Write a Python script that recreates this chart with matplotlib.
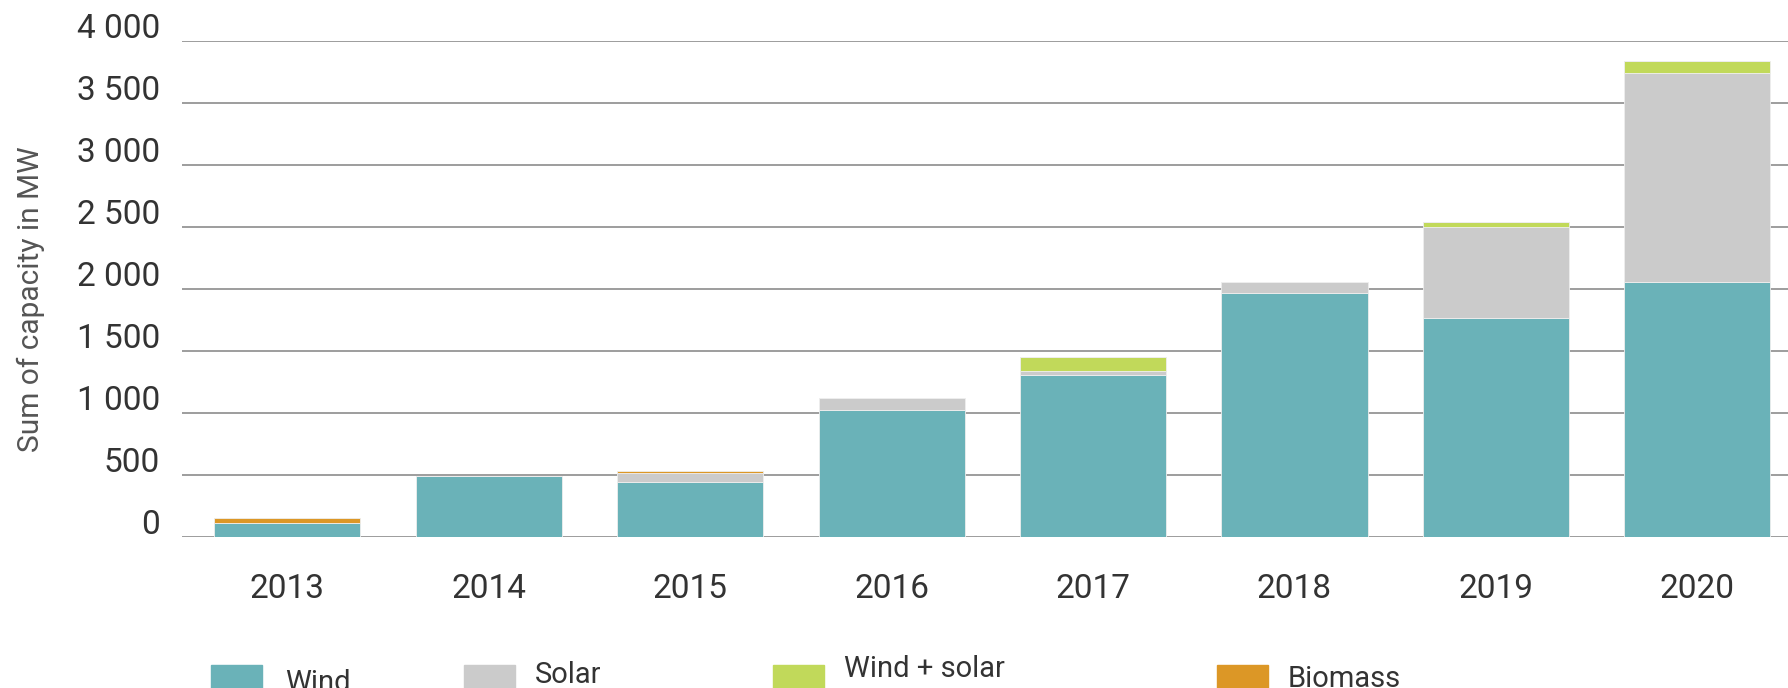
import matplotlib
matplotlib.use("Agg")
import matplotlib.pyplot as plt
import matplotlib.transforms as mtrans
from matplotlib.patches import Rectangle
import numpy as np

years = ["2013", "2014", "2015", "2016", "2017", "2018", "2019", "2020"]
wind = [105, 490, 440, 1020, 1305, 1960, 1765, 2050]
solar = [0, 0, 75, 95, 30, 90, 730, 1685]
wind_solar = [0, 0, 0, 0, 110, 0, 40, 100]
biomass = [45, 0, 15, 0, 0, 0, 0, 0]

series = [wind, solar, wind_solar, biomass]
labels = ["Wind", "Solar", "Wind + solar", "Biomass"]
colors = ["#6ab2b8", "#cbcbcb", "#c1d95a", "#dc9726"]
yticks = [0, 500, 1000, 1500, 2000, 2500, 3000, 3500, 4000]
ytick_labels = ["0", "500", "1 000", "1 500", "2 000", "2 500", "3 000", "3 500", "4 000"]

plt.rcParams['font.family'] = ['Roboto', 'DejaVu Sans']

W, H = 1788, 688
fig = plt.figure(figsize=(W / 100, H / 100), dpi=100)
ax = fig.add_axes([182 / W, 1 - 536.5 / H, 1 - 182 / W, (536.5 - 40.5) / H])

x = np.arange(len(years))
bottom = np.zeros(len(years))
for vals, col in zip(series, colors):
    vals = np.array(vals, dtype=float)
    ax.bar(x, vals, 0.725, bottom=bottom, color=col, edgecolor="#eeeeee",
           linewidth=0.6, zorder=3)
    bottom += vals

ax.set_xlim(-0.523, 7.45)
ax.set_ylim(0, 4000)
ax.set_yticks(yticks)
ax.set_yticklabels(ytick_labels)
ax.set_xticks(x)
ax.set_xticklabels(years)
for y in yticks:
    ax.axhline(y, color="#959595", linewidth=1.3, zorder=1)
for s in ax.spines.values():
    s.set_visible(False)
ax.tick_params(axis="both", length=0, labelsize=24, labelcolor="#333333")
ax.tick_params(axis="y", pad=16)
ax.tick_params(axis="x", pad=26)

off = mtrans.ScaledTranslation(0, 2.5 / 100, fig.dpi_scale_trans)
for lab in ax.get_yticklabels():
    lab.set_va("baseline")
    lab.set_transform(lab.get_transform() + off)

fig.text(31 / W, 1 - 299 / H, "Sum of capacity in MW", rotation=90,
         ha="center", va="center", fontsize=21.5, color="#555555")

# legend laid out by hand, like the original
patch_x = [211, 464, 773, 1217]
text_x = [285, 535, 844, 1288]
text_base = [691, 683, 677, 687]
for px, tx, tb, lab, col in zip(patch_x, text_x, text_base, labels, colors):
    fig.add_artist(Rectangle((px / W, 0), 51 / W, (H - 665) / H,
                             transform=fig.transFigure, color=col))
    fig.text(tx / W, 1 - tb / H, lab, fontsize=21, color="#333333",
             ha="left", va="baseline")

fig.savefig("out.png", dpi=100)
